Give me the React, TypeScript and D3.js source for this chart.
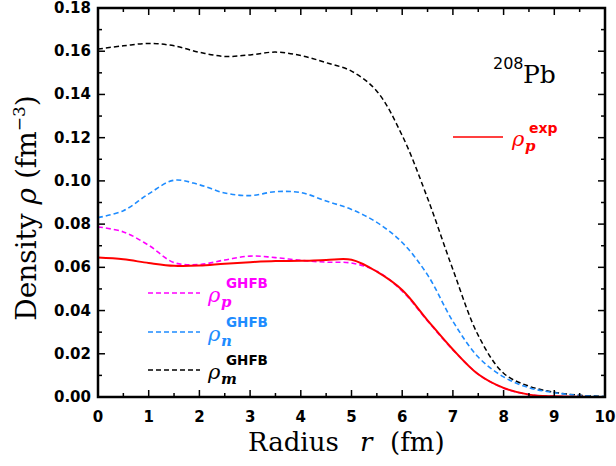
import React from "react";
import * as d3 from "d3";

// radius grid (fm) and densities
const radius = [0, 0.5, 1, 1.5, 2, 2.5, 3, 3.5, 4, 4.5, 5, 5.5, 6, 6.5, 7, 7.5, 8, 8.5, 9, 9.5, 10];
const rhoM = [0.161, 0.1625, 0.1636, 0.1625, 0.1595, 0.1576, 0.1583, 0.1596, 0.1580, 0.1547, 0.1508, 0.1415, 0.121, 0.092, 0.059, 0.0285, 0.0110, 0.0050, 0.0022, 0.0008, 0.0002];
const rhoN = [0.083, 0.0862, 0.0940, 0.1003, 0.0982, 0.0944, 0.0932, 0.0950, 0.0946, 0.0907, 0.0868, 0.0808, 0.0715, 0.0565, 0.035, 0.0185, 0.0093, 0.0043, 0.002, 0.0007, 0.0002];
const rhoPGhfb = [0.0787, 0.0764, 0.0702, 0.0622, 0.0613, 0.0634, 0.0652, 0.0645, 0.0632, 0.0624, 0.062, 0.0582, 0.0490, 0.0352, 0.0218, 0.0106, 0.0041, 0.0011, 0.0003, 0.0001, 0];
const rhoPExp = [0.0645, 0.0637, 0.0620, 0.0607, 0.0608, 0.0617, 0.0624, 0.0629, 0.0630, 0.0634, 0.0635, 0.0580, 0.0495, 0.0355, 0.022, 0.0105, 0.0042, 0.0011, 0.0003, 0.0001, 0];

const xTicks = [0, 1, 2, 3, 4, 5, 6, 7, 8, 9, 10];
const yTicks = [0, 0.02, 0.04, 0.06, 0.08, 0.1, 0.12, 0.14, 0.16, 0.18];

const left = 98, right = 605, top = 8, bottom = 397;

const x = d3.scaleLinear().domain([0, 10]).range([left, right]);
const y = d3.scaleLinear().domain([0, 0.18]).range([bottom, top]);

function makeLine(vals: number[]) {
  const line = d3.line<number>()
    .x((_, i) => x(radius[i]))
    .y((d) => y(Math.max(d, 0)))
    .curve(d3.curveCatmullRom.alpha(0.5));
  return line(vals) || "";
}

const series = [
  { vals: rhoM, color: "#000000", dash: "5,3", width: 1.5 },
  { vals: rhoN, color: "#1e8cff", dash: "5,3", width: 1.6 },
  { vals: rhoPGhfb, color: "#ff00ff", dash: "5,3", width: 1.6 },
  { vals: rhoPExp, color: "#ff0000", dash: null, width: 2 },
];

const legendGhfb = [
  { sub: "p", color: "#ff00ff", ly: 293 },
  { sub: "n", color: "#1e8cff", ly: 332 },
  { sub: "m", color: "#000000", ly: 370 },
];

const sans = "DejaVu Sans, sans-serif";
const serif = "DejaVu Serif, serif";

export default function App() {
  const minorX = d3.range(0, 10.01, 0.5);
  const minorY = d3.range(0, 0.1801, 0.01);
  return (
    <svg width={616} height={466} style={{ position: "absolute", left: 0, top: 0, background: "#fff" }}>
      {series.map((s, i) => (
        <path key={i} d={makeLine(s.vals)} fill="none" stroke={s.color}
          strokeWidth={s.width} strokeDasharray={s.dash || undefined} />
      ))}

      {/* ticks on all four sides */}
      {minorX.map((t, i) => {
        const len = Math.abs(t - Math.round(t)) < 1e-6 ? 7 : 4;
        return (
          <g key={"tx" + i} stroke="#000" strokeWidth={1.5}>
            <line x1={x(t)} x2={x(t)} y1={bottom} y2={bottom - len} />
            <line x1={x(t)} x2={x(t)} y1={top} y2={top + len} />
          </g>
        );
      })}
      {minorY.map((t, i) => {
        const len = i % 2 === 0 ? 7 : 4;
        return (
          <g key={"ty" + i} stroke="#000" strokeWidth={1.5}>
            <line x1={left} x2={left + len} y1={y(t)} y2={y(t)} />
            <line x1={right} x2={right - len} y1={y(t)} y2={y(t)} />
          </g>
        );
      })}
      <rect x={left} y={top} width={right - left} height={bottom - top} fill="none" stroke="#000" strokeWidth={2.5} />

      {xTicks.map((t) => (
        <text key={"lx" + t} x={x(t)} y={422} textAnchor="middle" fontFamily={sans}
          fontWeight="bold" fontSize={15}>{t}</text>
      ))}
      {yTicks.map((t) => (
        <text key={"ly" + t} x={91} y={y(t)} textAnchor="end" dominantBaseline="central"
          fontFamily={sans} fontWeight="bold" fontSize={15}>{t.toFixed(2)}</text>
      ))}

      {/* axis titles */}
      <text y={451} fontFamily={serif} fontSize={26}>
        <tspan x={248}>Radius</tspan>
        <tspan x={360} fontStyle="italic">r</tspan>
        <tspan x={390}>(fm)</tspan>
      </text>
      <text transform="translate(36,208) rotate(-90)" textAnchor="middle" fontFamily={serif} fontSize={28}>
        Density <tspan fontStyle="italic">ρ</tspan>{"  (fm"}
        <tspan fontSize={17} dy={-11}>−3</tspan>
        <tspan dy={11}>)</tspan>
      </text>

      {/* nucleus label */}
      <text x={493} y={69} fontFamily={sans} fontSize={16}>208</text>
      <text x={523} y={83} fontFamily={serif} fontSize={25}>Pb</text>

      {/* legend */}
      <line x1={453} x2={503} y1={137} y2={137} stroke="#ff0000" strokeWidth={1.6} />
      <g fill="#ff0000">
        <text x={512} y={146} fontFamily={serif} fontStyle="italic" fontSize={21}>ρ</text>
        <text x={525} y={151} fontFamily={serif} fontStyle="italic" fontWeight="bold" fontSize={15}>p</text>
        <text x={529} y={133} fontFamily={sans} fontWeight="bold" fontSize={14}>exp</text>
      </g>
      {legendGhfb.map((l) => (
        <g key={l.sub} fill={l.color}>
          <line x1={148} x2={200} y1={l.ly} y2={l.ly} stroke={l.color} strokeWidth={1.5} strokeDasharray="5,3" />
          <text x={208} y={l.ly + 9} fontFamily={serif} fontStyle="italic" fontSize={21}>ρ</text>
          <text x={221} y={l.ly + 14} fontFamily={serif} fontStyle="italic" fontWeight="bold" fontSize={15}>{l.sub}</text>
          <text x={226} y={l.ly - 5} fontFamily={sans} fontWeight="bold" fontSize={13.5}>GHFB</text>
        </g>
      ))}
    </svg>
  );
}
